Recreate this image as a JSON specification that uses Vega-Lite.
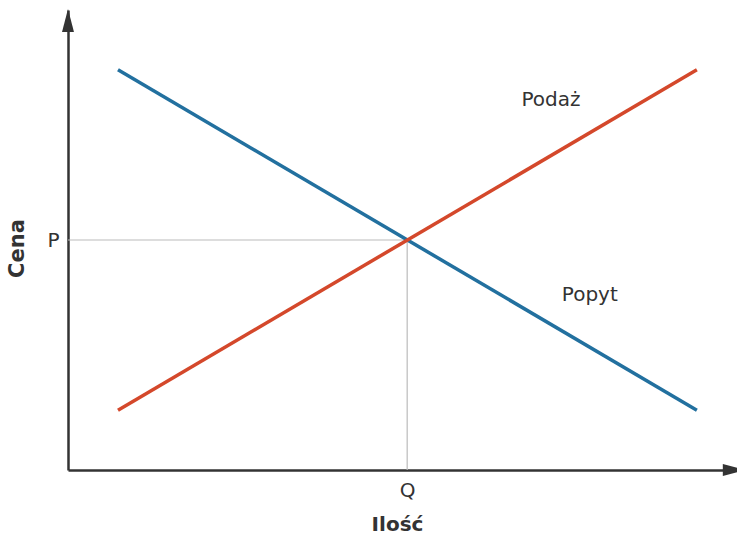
{
  "$schema": "https://vega.github.io/schema/vega-lite/v6.json",
  "width": 669,
  "height": 460,
  "autosize": "none",
  "padding": {"left": 68, "top": 10, "right": 0, "bottom": 67},
  "background": "white",
  "config": {"view": {"stroke": null}, "font": "DejaVu Sans"},
  "datasets": {
    "curves": [
      {"x": 0.747, "y": 8.7, "curve": "Popyt"},
      {"x": 9.4, "y": 1.3, "curve": "Popyt"},
      {"x": 0.747, "y": 1.3, "curve": "Podaż"},
      {"x": 9.4, "y": 8.7, "curve": "Podaż"}
    ],
    "guides": [
      {"x": 0, "y": 5.0, "x2": 5.07, "y2": 5.0},
      {"x": 5.07, "y": 0, "x2": 5.07, "y2": 5.0}
    ],
    "labels": [
      {"x": 7.22, "y": 8.04, "text": "Podaż"},
      {"x": 7.8, "y": 3.8, "text": "Popyt"}
    ],
    "arrows": [
      {"x": 0, "y": 9.77, "dir": "up"},
      {"x": 9.96, "y": 0, "dir": "right"}
    ]
  },
  "layer": [
    {
      "data": {"name": "guides"},
      "mark": {"type": "rule", "color": "#bbbbbb", "strokeWidth": 1.2},
      "encoding": {
        "x": {"field": "x", "type": "quantitative", "scale": {"domain": [0, 10], "nice": false, "zero": false},
          "axis": {"values": [5.07], "labelExpr": "'Q'", "title": "Ilość", "grid": false, "ticks": false,
            "domainColor": "#333333", "domainWidth": 2.5, "labelFontSize": 20, "labelColor": "#333333",
            "labelPadding": 10, "titleFontSize": 20, "titleFontWeight": "bold", "titleColor": "#333333", "titlePadding": 14, "titleX": 329}},
        "x2": {"field": "x2"},
        "y": {"field": "y", "type": "quantitative", "scale": {"domain": [0, 10], "nice": false, "zero": false},
          "axis": {"values": [5.0], "labelExpr": "'P'", "title": "Cena", "grid": false, "ticks": false,
            "domainColor": "#333333", "domainWidth": 2.5, "labelFontSize": 20, "labelColor": "#333333",
            "labelPadding": 9, "titleFontSize": 21, "titleFontWeight": "bold", "titleColor": "#333333", "titlePadding": 19, "titleY": 238}},
        "y2": {"field": "y2"}
      }
    },
    {
      "data": {"name": "curves"},
      "mark": {"type": "line", "strokeWidth": 3.5},
      "encoding": {
        "x": {"field": "x", "type": "quantitative"},
        "y": {"field": "y", "type": "quantitative"},
        "color": {"field": "curve", "type": "nominal", "scale": {"domain": ["Podaż", "Popyt"], "range": ["#d4482b", "#22709f"]}, "legend": null}
      }
    },
    {
      "data": {"name": "labels"},
      "mark": {"type": "text", "fontSize": 20, "color": "#333333", "font": "DejaVu Sans"},
      "encoding": {
        "x": {"field": "x", "type": "quantitative"},
        "y": {"field": "y", "type": "quantitative"},
        "text": {"field": "text"}
      }
    },
    {
      "data": {"name": "arrows"},
      "mark": {"type": "point", "filled": true, "opacity": 1, "color": "#333333", "size": 529, "clip": false, "strokeWidth": 0},
      "encoding": {
        "x": {"field": "x", "type": "quantitative"},
        "y": {"field": "y", "type": "quantitative"},
        "shape": {"field": "dir", "type": "nominal", "scale": {"domain": ["up", "right"], "range": ["M0,-1L0.52,1L-0.52,1Z", "M1,0L-1,0.52L-1,-0.52Z"]}, "legend": null}
      }
    }
  ]
}
